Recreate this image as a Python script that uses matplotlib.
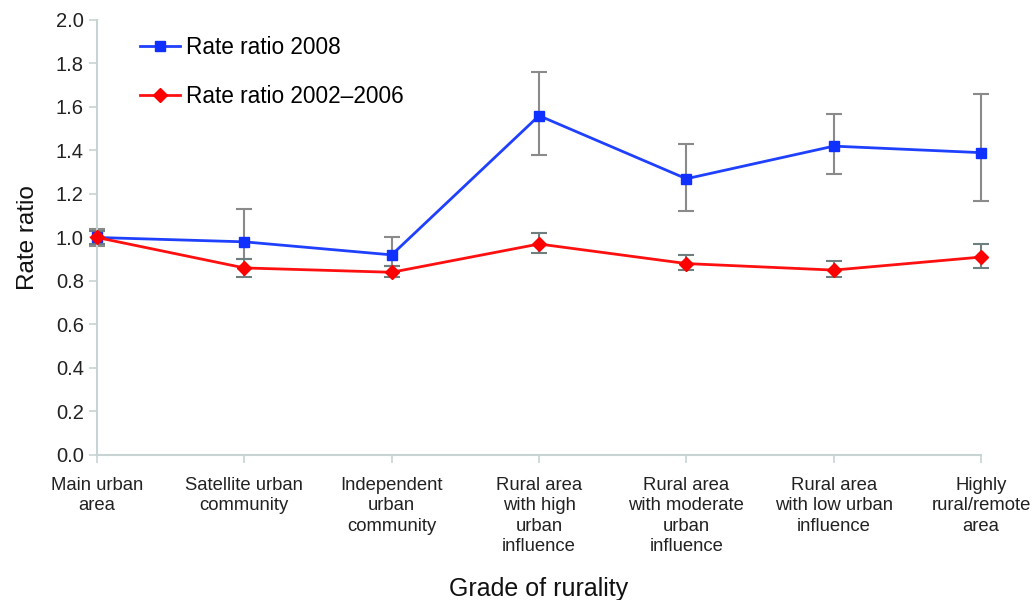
import matplotlib.pyplot as plt
import numpy as np

plt.rcParams['font.family'] = ['Liberation Sans', 'DejaVu Sans']

categories = ['Main urban\narea', 'Satellite urban\ncommunity', 'Independent\nurban\ncommunity',
              'Rural area\nwith high\nurban\ninfluence', 'Rural area\nwith moderate\nurban\ninfluence',
              'Rural area\nwith low urban\ninfluence', 'Highly\nrural/remote\narea']

rr_2008 = [1.00, 0.98, 0.92, 1.56, 1.27, 1.42, 1.39]
lo_2008 = [0.96, 0.90, 0.87, 1.38, 1.12, 1.29, 1.17]
hi_2008 = [1.04, 1.13, 1.00, 1.76, 1.43, 1.57, 1.66]

rr_0206 = [1.00, 0.86, 0.84, 0.97, 0.88, 0.85, 0.91]
lo_0206 = [0.97, 0.82, 0.82, 0.93, 0.85, 0.82, 0.86]
hi_0206 = [1.03, 0.90, 0.87, 1.02, 0.92, 0.89, 0.97]

x = np.arange(len(categories))

fig = plt.figure(figsize=(10.34, 6), dpi=100)
ax = fig.add_axes([0.0938, 0.2417, 0.855, 0.725])

err_2008 = [np.subtract(rr_2008, lo_2008), np.subtract(hi_2008, rr_2008)]
err_0206 = [np.subtract(rr_0206, lo_0206), np.subtract(hi_0206, rr_0206)]

ax.errorbar(x, rr_2008, yerr=err_2008, fmt='none', ecolor='#8a8a8a', elinewidth=1.5,
            capsize=6, capthick=1.5, zorder=2)
ax.errorbar(x, rr_0206, yerr=err_0206, fmt='none', ecolor='#6f7f7f', elinewidth=1.5,
            capsize=6, capthick=1.5, zorder=2)
ax.plot(x, rr_2008, color='#2040ff', lw=2, marker='s', ms=7.5, mfc='#1030ff', mec='#1030ff',
        label='Rate ratio 2008', zorder=3)
ax.plot(x, rr_0206, color='#ff1010', lw=2, marker='D', ms=7, mfc='#ff0000', mec='#ff0000',
        label='Rate ratio 2002\u20132006', zorder=4)

ax.set_xlim(0, 6)
ax.set_ylim(0, 2.0)
ax.set_yticks(np.arange(0, 2.01, 0.2))
ax.set_yticklabels([f'{v:.1f}' for v in np.arange(0, 2.01, 0.2)])
ax.set_xticks(x)
ax.set_xticklabels(categories, fontsize=13.3, color='#222222', linespacing=1.25)
ax.tick_params(axis='y', labelsize=14.5, colors='#222222', length=6, color='#c8d4d4', width=1.2)
ax.tick_params(axis='x', length=6, color='#c8d4d4', width=1.2, pad=10)

for side in ['top', 'right']:
    ax.spines[side].set_visible(False)
for side in ['left', 'bottom']:
    ax.spines[side].set_color('#c8d4d4')
    ax.spines[side].set_linewidth(1.5)
for line in ax.lines:
    line.set_clip_on(False)
for coll in ax.collections:
    coll.set_clip_on(False)

ax.set_ylabel('Rate ratio', fontsize=17.5, color='#111111', labelpad=12)
ax.set_xlabel('Grade of rurality', fontsize=18, color='#111111', labelpad=16)

ax.legend(loc='upper left', bbox_to_anchor=(0.021, 1.02), frameon=False, fontsize=16.3,
          handlelength=1.75, handletextpad=0.25, labelspacing=1.15, borderpad=0.6)

fig.savefig('out.png', dpi=100)
